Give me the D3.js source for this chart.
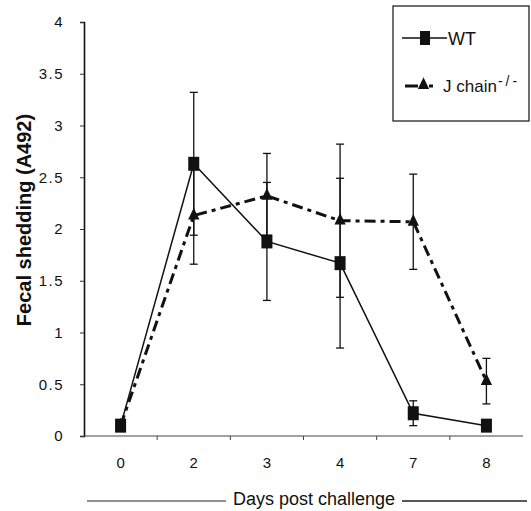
<!DOCTYPE html>
<html>
<head>
<meta charset="utf-8">
<script src="https://cdn.jsdelivr.net/npm/d3@7"></script>
<style>
  body { margin: 0; background: #fff; }
  text { font-family: "Liberation Sans", Arial, sans-serif; fill: #111; }
</style>
</head>
<body>
<div class="chart"></div>
<script>
const days = ["0", "2", "3", "4", "7", "8"];
const wtValues = [0.1, 2.63, 1.88, 1.67, 0.22, 0.1];
const wtErrors = [0, 0.69, 0.57, 0.82, 0.12, 0];
const jValues = [0.1, 2.13, 2.32, 2.08, 2.07, 0.53];
const jErrors = [0, 0.47, 0.41, 0.74, 0.46, 0.22];
const yTicks = [0, 0.5, 1, 1.5, 2, 2.5, 3, 3.5, 4];

const w = 531, h = 511;
const svg = d3.select('.chart').append('svg')
    .attr('width', w).attr('height', h);

const x = d3.scaleBand().domain(days).range([84, 523]);
const y = d3.scaleLinear().domain([0, 4]).range([436, 22]);
const cx = d => x(d) + x.bandwidth() / 2;

// y axis
const yAxis = svg.append('g')
    .attr('transform', 'translate(84,0)')
    .call(d3.axisLeft(y).tickValues(yTicks).tickFormat(d => d).tickSize(4).tickPadding(16));
yAxis.select('.domain').attr('stroke', '#111').attr('stroke-width', 1.6);
yAxis.selectAll('.tick line').attr('stroke', '#333');
yAxis.selectAll('text').attr('font-size', 15).attr('font-family', '"Liberation Sans", Arial, sans-serif')
    .style('letter-spacing', '1.5px');

// x axis (ticks at category boundaries)
svg.append('line')
    .attr('x1', 84).attr('x2', 523)
    .attr('y1', y(0)).attr('y2', y(0))
    .attr('stroke', '#444').attr('stroke-width', 1.2);
svg.selectAll('.xtick')
    .data(days.slice(1))
    .enter().append('line')
    .attr('x1', d => x(d)).attr('x2', d => x(d))
    .attr('y1', y(0)).attr('y2', y(0) + 4)
    .attr('stroke', '#444');
svg.selectAll('.xlabel')
    .data(days)
    .enter().append('text')
    .attr('x', d => cx(d))
    .attr('y', 468)
    .attr('text-anchor', 'middle')
    .attr('font-size', 15)
    .text(d => d);

// axis titles
svg.append('text')
    .attr('transform', 'translate(31,220) rotate(-90)')
    .attr('text-anchor', 'middle')
    .attr('font-size', 20)
    .attr('font-weight', 'bold')
    .text('Fecal shedding (A492)');

svg.append('text')
    .attr('x', 314).attr('y', 505)
    .attr('text-anchor', 'middle')
    .attr('font-size', 18)
    .text('Days post challenge');
svg.append('line').attr('x1', 87).attr('x2', 226).attr('y1', 501).attr('y2', 501)
    .attr('stroke', '#222').attr('stroke-width', 1.2);
svg.append('line').attr('x1', 402).attr('x2', 527).attr('y1', 501).attr('y2', 501)
    .attr('stroke', '#222').attr('stroke-width', 1.6);

// error bars
function errorBars(values, errors) {
    const g = svg.append('g').attr('stroke', '#111').attr('stroke-width', 1.3);
    days.forEach((d, i) => {
        if (!errors[i]) return;
        const x0 = cx(d), top = y(values[i] + errors[i]), bot = y(values[i] - errors[i]);
        g.append('line').attr('x1', x0).attr('x2', x0).attr('y1', top).attr('y2', bot);
        g.append('line').attr('x1', x0 - 4).attr('x2', x0 + 4).attr('y1', top).attr('y2', top);
        g.append('line').attr('x1', x0 - 4).attr('x2', x0 + 4).attr('y1', bot).attr('y2', bot);
    });
}
errorBars(wtValues, wtErrors);
errorBars(jValues, jErrors);

// lines
const line = d3.line().x((d, i) => cx(days[i])).y(d => y(d));
svg.append('path').datum(jValues)
    .attr('d', line).attr('fill', 'none')
    .attr('stroke', '#111').attr('stroke-width', 3)
    .attr('stroke-dasharray', '11,5,4,5');
svg.append('path').datum(wtValues)
    .attr('d', line).attr('fill', 'none')
    .attr('stroke', '#111').attr('stroke-width', 1.5);

// markers
const tri = d3.symbol().type(d3.symbolTriangle).size(55);
svg.selectAll('.jpt')
    .data(jValues)
    .enter().append('path')
    .attr('d', tri)
    .attr('transform', (d, i) => `translate(${cx(days[i])},${y(d)}) scale(1,1.2)`)
    .attr('fill', '#111');
svg.selectAll('.wtpt')
    .data(wtValues)
    .enter().append('rect')
    .attr('x', (d, i) => cx(days[i]) - 5.5)
    .attr('y', d => y(d) - 7)
    .attr('width', 11).attr('height', 14)
    .attr('fill', '#111');

// legend
const lg = svg.append('g');
lg.append('rect').attr('x', 393).attr('y', 6).attr('width', 136).attr('height', 115)
    .attr('fill', '#fff').attr('stroke', '#111').attr('stroke-width', 1.2);
lg.append('line').attr('x1', 402).attr('x2', 447).attr('y1', 38).attr('y2', 38)
    .attr('stroke', '#111').attr('stroke-width', 1.5);
lg.append('rect').attr('x', 420).attr('y', 31).attr('width', 10).attr('height', 14).attr('fill', '#111');
lg.append('text').attr('x', 448).attr('y', 45).attr('font-size', 18).text('WT');
lg.append('line').attr('x1', 405).attr('x2', 418).attr('y1', 86).attr('y2', 86)
    .attr('stroke', '#111').attr('stroke-width', 3);
lg.append('line').attr('x1', 429).attr('x2', 433).attr('y1', 86).attr('y2', 86)
    .attr('stroke', '#111').attr('stroke-width', 3);
lg.append('path').attr('d', tri)
    .attr('transform', 'translate(423.5,85) scale(1,1.2)').attr('fill', '#111');
const jt = lg.append('text').attr('x', 443).attr('y', 92).attr('font-size', 17);
jt.append('tspan').text('J chain');
jt.append('tspan').attr('dy', -6).attr('dx', 1).attr('font-size', 14).style('letter-spacing', '3px').text('-/-');
</script>
</body>
</html>
